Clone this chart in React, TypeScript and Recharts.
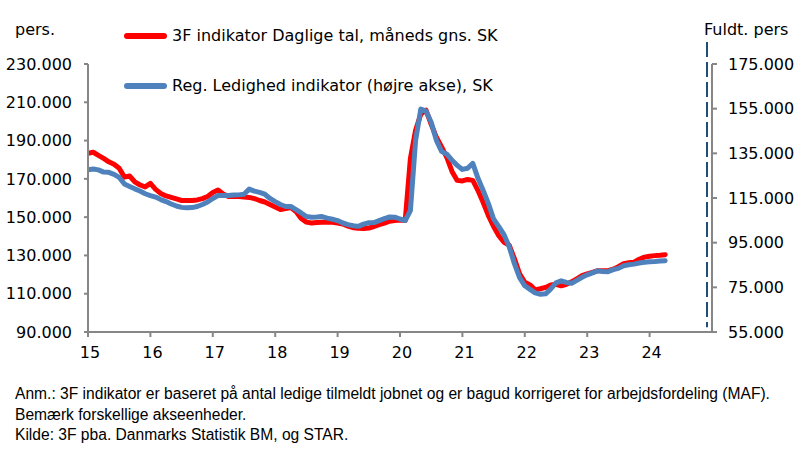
import { Line, LineChart, ReferenceLine, XAxis, YAxis } from "recharts";

// månedlige tal, jan 2015 - apr 2024
const startYear = 15;
const yearTicks = [15, 16, 17, 18, 19, 20, 21, 22, 23, 24];
const leftTicks = [90000, 110000, 130000, 150000, 170000, 190000, 210000, 230000];
const rightTicks = [55000, 75000, 95000, 115000, 135000, 155000, 175000];

// 3F indikator Daglige tal, måneds gns. SK (venstre akse)
const indicator3F = [
  183300, 183900, 182300, 180700, 178900, 177600, 175500, 170900, 171500, 168400, 166800, 165800,
  167600, 164500, 162400, 161100, 160300, 159500, 158700, 158700, 158700, 159000, 159700, 160800,
  162900, 164200, 162100, 160800, 160800, 160800, 160500, 160300, 159700, 158700, 157900, 156600,
  155300, 154000, 154500, 155000, 152900, 149300, 147400, 146900, 147200, 147300, 147300, 147300,
  146900, 146400, 145300, 144500, 144200, 144000, 144300, 145100, 146100, 146900, 147900, 148200,
  148500, 148200, 180700, 195400, 203800, 205900, 198500, 191700, 186700, 181200, 173900, 169200,
  168900, 169700, 169200, 163900, 157600, 150800, 145100, 140300, 136900, 135400, 128300, 120400,
  116000, 114600, 112000, 112600, 113300, 114600, 114900, 114100, 114900, 116200, 117800, 119400,
  120400, 121200, 122000, 122000, 122000, 122800, 124100, 125700, 126200, 126500, 128000, 129100,
  129600, 129900, 130100, 130400
];

// Reg. Ledighed indikator, fuldtidspersoner (højre akse)
const regLedighed = [
  127600, 128000, 127600, 126600, 126500, 125600, 124200, 121300, 120200, 119100, 118100, 116900,
  116100, 115400, 114300, 113400, 112300, 111400, 110800, 110600, 110700, 111200, 112100, 113200,
  114800, 116100, 116100, 116100, 116300, 116400, 116700, 119000, 118100, 117500, 116700, 114800,
  113400, 112100, 111200, 111200, 109800, 108300, 106700, 106400, 106500, 106700, 106000, 105500,
  104900, 103800, 103100, 102600, 102300, 103300, 103900, 104000, 104900, 105800, 106500, 106400,
  105600, 104900, 109400, 140800, 154800, 153900, 148900, 140800, 135900, 134600, 131900, 129600,
  127800, 128300, 130500, 123800, 118400, 112500, 105600, 102200, 98600, 93200, 85600, 79300,
  75700, 74100, 72500, 71900, 72100, 74300, 77000, 77900, 77200, 76800, 78100, 79500,
  80600, 81500, 82400, 82100, 82000, 82900, 83500, 84700, 85100, 85400, 85900, 86200,
  86500, 86600, 86800, 86900
];

const dashedMarkerX = 24.92;

const rows = indicator3F.map((value, index) => ({
  t: startYear + index / 12,
  red: value,
  blue: regLedighed[index]
}));

const axisGrey = "#868686";
const font = "'DejaVu Sans', Verdana, sans-serif";
const formatThousands = (value: number): string =>
  String(value).replace(/\B(?=(\d{3})+(?!\d))/g, ".");

const LegendRow = ({ color, label, top }: { color: string; label: string; top: number }) => (
  <div style={{ position: "absolute", left: 120, top, display: "flex", alignItems: "center" }}>
    <svg height={10} width={50}>
      <line stroke={color} strokeLinecap="round" strokeWidth={6} x1={7} x2={44} y1={5} y2={5} />
    </svg>
    <span style={{ fontSize: 16, marginLeft: 2, whiteSpace: "nowrap" }}>{label}</span>
  </div>
);

export default function App() {
  return (
    <div
      style={{
        position: "absolute",
        left: 0,
        top: 0,
        width: 800,
        height: 455,
        background: "#fff",
        fontFamily: font,
        color: "#000"
      }}
    >
      <LineChart data={rows} height={455} margin={{ top: 64, right: 0, bottom: 83, left: 0 }} width={800}>
        <XAxis
          allowDataOverflow
          axisLine={{ stroke: axisGrey, strokeWidth: 2 }}
          dataKey="t"
          domain={[15, 25]}
          height={40}
          tick={{ fill: "#000", fontSize: 16, fontFamily: font, dx: 2 }}
          tickLine={{ stroke: axisGrey, strokeWidth: 2 }}
          tickMargin={10}
          tickSize={5}
          ticks={yearTicks}
          type="number"
        />
        <YAxis
          axisLine={{ stroke: axisGrey, strokeWidth: 2 }}
          domain={[90000, 230000]}
          tick={{ fill: "#000", fontSize: 16, fontFamily: font }}
          tickFormatter={formatThousands}
          tickLine={{ stroke: axisGrey, strokeWidth: 2 }}
          tickMargin={12}
          tickSize={4}
          ticks={leftTicks}
          type="number"
          width={88}
          yAxisId="left"
        />
        <YAxis
          axisLine={{ stroke: axisGrey, strokeWidth: 2 }}
          domain={[55000, 175000]}
          orientation="right"
          tick={{ fill: "#000", fontSize: 16, fontFamily: font }}
          tickFormatter={formatThousands}
          tickLine={{ stroke: axisGrey, strokeWidth: 2 }}
          tickMargin={11}
          tickSize={5}
          ticks={rightTicks}
          type="number"
          width={88}
          yAxisId="right"
        />
        <ReferenceLine
          ifOverflow="visible"
          segment={[
            { x: dashedMarkerX, y: 241500 },
            { x: dashedMarkerX, y: 92500 }
          ]}
          stroke="#1F4E79"
          strokeDasharray="15 5"
          strokeWidth={2}
          yAxisId="left"
        />
        <Line
          dataKey="red"
          dot={false}
          isAnimationActive={false}
          stroke="#FF0000"
          strokeLinecap="round"
          strokeLinejoin="round"
          strokeWidth={5}
          type="linear"
          yAxisId="left"
        />
        <Line
          dataKey="blue"
          dot={false}
          isAnimationActive={false}
          stroke="#4F81BD"
          strokeLinecap="round"
          strokeLinejoin="round"
          strokeWidth={5}
          type="linear"
          yAxisId="right"
        />
      </LineChart>

      <div style={{ position: "absolute", left: 15, top: 20, fontSize: 16 }}>pers.</div>
      <div style={{ position: "absolute", left: 704, top: 20, fontSize: 16, whiteSpace: "nowrap" }}>
        Fuldt. pers
      </div>
      <LegendRow color="#FF0000" label="3F indikator Daglige tal, måneds gns. SK" top={26} />
      <LegendRow color="#4F81BD" label="Reg. Ledighed indikator (højre akse), SK" top={76} />

      <div
        style={{
          position: "absolute",
          left: 15,
          top: 384,
          fontFamily: "'Liberation Sans', Arial, sans-serif",
          fontSize: 15.6,
          lineHeight: "20.5px",
          whiteSpace: "nowrap"
        }}
      >
        <div>
          Anm.: 3F indikator er baseret på antal ledige tilmeldt jobnet og er bagud korrigeret for arbejdsfordeling
          (MAF).
        </div>
        <div>Bemærk forskellige akseenheder.</div>
        <div>Kilde: 3F pba. Danmarks Statistik BM, og STAR.</div>
      </div>
    </div>
  );
}
